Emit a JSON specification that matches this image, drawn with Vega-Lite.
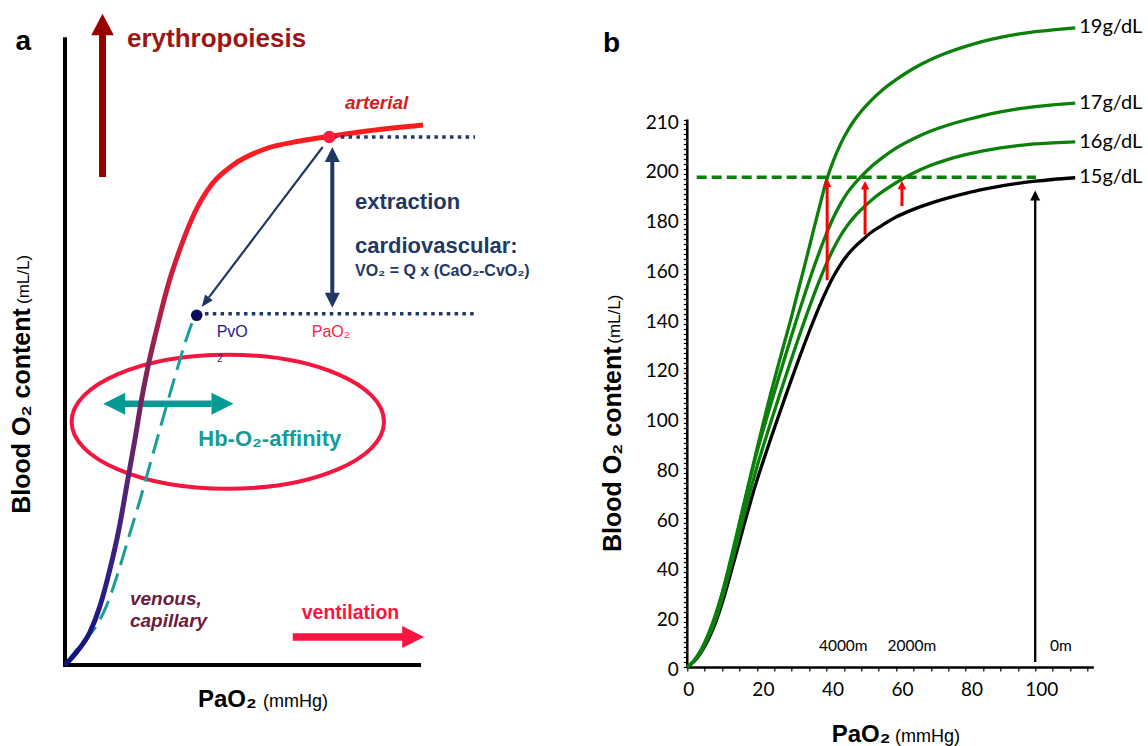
{
  "$schema": "https://vega.github.io/schema/vega-lite/v6.json",
  "padding": {"left": 10, "top": 13, "right": 0, "bottom": 0},
  "background": "white",
  "config": {"view": {"stroke": null}, "font": "Liberation Sans", "text": {"font": "Liberation Sans"}},
  "columns": 2,
  "spacing": 207.3,
  "bounds": "flush",
  "align": "each",
  "concat": [
    {
      "width": 415,
      "height": 652,
      "encoding": {
        "x": {"field": "x", "type": "quantitative", "scale": {"domain": [0, 100], "nice": false, "zero": false}, "axis": null},
        "y": {"field": "y", "type": "quantitative", "scale": {"domain": [0, 100], "nice": false, "zero": false}, "axis": null}
      },
      "layer": [
        {"data": {"values": [{"x": 39.23, "y": 37.62}]}, "mark": {"type": "point", "shape": "M-1,0A1,0.429,0,1,1,1,0A1,0.429,0,1,1,-1,0Z", "size": 97594, "filled": false, "stroke": "#f5163f", "strokeWidth": 4, "opacity": 1}},
        {"data": {"values": [{"x": 0, "y": 0, "x2": 0, "y2": 96.6}, {"x": -0.45, "y": 0.31, "x2": 85.8, "y2": 0.31}]}, "mark": {"type": "rule", "color": "#000000", "strokeWidth": 4}, "encoding": {"x2": {"field": "x2"}, "y2": {"field": "y2"}}},
        {"data": {"values": [{"x": 14.46, "x2": 35.35, "y": 40.38}]}, "mark": {"type": "rule", "color": "#079a95", "strokeWidth": 6.5}, "encoding": {"x2": {"field": "x2"}}},
        {"data": {"values": [{"x": 11.85, "y": 40.38}]}, "mark": {"type": "point", "shape": "M0,-1L1,1L-1,1Z", "size": 484, "angle": 270, "filled": true, "color": "#079a95", "opacity": 1}},
        {"data": {"values": [{"x": 37.95, "y": 40.38}]}, "mark": {"type": "point", "shape": "M0,-1L1,1L-1,1Z", "size": 484, "angle": 90, "filled": true, "color": "#079a95", "opacity": 1}},
        {"data": {"values": [
          {"x": 0, "y": 0.31}, {"x": 3.61, "y": 3.3}, {"x": 7.64, "y": 6.4}, {"x": 10.05, "y": 9.46}, {"x": 12.84, "y": 14.57}, {"x": 15.66, "y": 20.55}, {"x": 18.07, "y": 25.61}, {"x": 20.24, "y": 30.52}, {"x": 22.41, "y": 35.43}, {"x": 24.58, "y": 40.34}, {"x": 26.75, "y": 45.09}, {"x": 28.92, "y": 49.69}, {"x": 30.84, "y": 53.22}
        ]}, "mark": {"type": "line", "color": "#1a9e9a", "strokeWidth": 3, "strokeDash": [20, 9], "interpolate": "monotone"}},
        {"data": {"values": [
          {"x": 0, "y": 0.31}, {"x": 2.82, "y": 2.3}, {"x": 6.02, "y": 5.37}, {"x": 8.43, "y": 9.36}, {"x": 10.84, "y": 15.03}, {"x": 13.01, "y": 21.17}, {"x": 14.94, "y": 28.07}, {"x": 16.87, "y": 34.97}, {"x": 18.55, "y": 41.41}, {"x": 20.24, "y": 46.78}, {"x": 22.41, "y": 52.61}, {"x": 25.06, "y": 59.05}, {"x": 27.71, "y": 64.11}, {"x": 31.33, "y": 69.79}, {"x": 35.42, "y": 74.08}, {"x": 40.48, "y": 76.99}, {"x": 48.19, "y": 79.45}, {"x": 56.63, "y": 80.67}, {"x": 63.61, "y": 81.37}, {"x": 72.77, "y": 82.21}, {"x": 86.27, "y": 83.13}
        ]}, "mark": {"type": "line", "strokeWidth": 5, "interpolate": "monotone", "stroke": {"gradient": "linear", "x1": 0, "y1": 0, "x2": 0, "y2": 1, "stops": [
          {"offset": 0, "color": "#ff1c1c"}, {"offset": 0.15, "color": "#f51c2c"}, {"offset": 0.28, "color": "#c81e3c"}, {"offset": 0.48, "color": "#7a2458"}, {"offset": 0.65, "color": "#5a2474"}, {"offset": 0.86, "color": "#2a1e88"}, {"offset": 1, "color": "#101080"}
        ]}}},
        {"data": {"values": [{"x": 64.58, "x2": 98.8, "y": 81.29}, {"x": 33.73, "x2": 98.8, "y": 54.19}]}, "mark": {"type": "rule", "color": "#1f3864", "strokeWidth": 3.5, "strokeDash": [3.5, 4.3]}, "encoding": {"x2": {"field": "x2"}}},
        {"data": {"values": [{"x": 64.41, "y": 57.26, "y2": 77.45}]}, "mark": {"type": "rule", "color": "#1f3864", "strokeWidth": 4}, "encoding": {"y2": {"field": "y2"}}},
        {"data": {"values": [{"x": 64.41, "y": 78.6}]}, "mark": {"type": "point", "shape": "M0,-1L1,1L-1,1Z", "size": 225, "angle": 0, "filled": true, "color": "#1f3864", "opacity": 1}},
        {"data": {"values": [{"x": 64.41, "y": 56.24}]}, "mark": {"type": "point", "shape": "M0,-1L1,1L-1,1Z", "size": 225, "angle": 180, "filled": true, "color": "#1f3864", "opacity": 1}},
        {"data": {"values": [{"x": 62.09, "y": 79.75, "x2": 34.67, "y2": 56.69}]}, "mark": {"type": "rule", "color": "#1f3864", "strokeWidth": 2.2}, "encoding": {"x2": {"field": "x2"}, "y2": {"field": "y2"}}},
        {"data": {"values": [{"x": 33.81, "y": 55.95}]}, "mark": {"type": "point", "shape": "M0,-1L0.8,1L-0.8,1Z", "size": 144, "angle": 217, "filled": true, "color": "#1f3864", "opacity": 1}},
        {"data": {"values": [{"x": 31.73, "y": 53.94}]}, "mark": {"type": "point", "shape": "circle", "size": 133, "filled": true, "color": "#0d0d5e", "opacity": 1}},
        {"data": {"values": [{"x": 63.69, "y": 81.29}]}, "mark": {"type": "point", "shape": "circle", "size": 154, "filled": true, "color": "#ff1e3c", "opacity": 1}},
        {"data": {"values": [{"x": 9.04, "y": 75.15, "y2": 97.5}]}, "mark": {"type": "rule", "color": "#990000", "strokeWidth": 7}, "encoding": {"y2": {"field": "y2"}}},
        {"data": {"values": [{"x": 9.04, "y": 98.54}]}, "mark": {"type": "point", "shape": "M0,-0.956L1,0.956L-1,0.956Z", "size": 511, "filled": true, "color": "#990000", "opacity": 1}},
        {"data": {"values": [{"x": 54.87, "x2": 82.2, "y": 4.6}]}, "mark": {"type": "rule", "color": "#fa1540", "strokeWidth": 7.3}, "encoding": {"x2": {"field": "x2"}}},
        {"data": {"values": [{"x": 83.9, "y": 4.6}]}, "mark": {"type": "point", "shape": "M0,-1L1,1L-1,1Z", "size": 484, "angle": 90, "filled": true, "color": "#fa1540", "opacity": 1}},
        {"data": {"values": [{"x": -10.05, "y": 94.63, "t": "a"}]}, "mark": {"type": "text", "fontSize": 28, "fontWeight": "bold", "align": "center", "baseline": "alphabetic", "color": "#000000"}, "encoding": {"text": {"field": "t"}}},
        {"data": {"values": [{"x": 14.94, "y": 95.09, "t": "erythropoiesis"}]}, "mark": {"type": "text", "fontSize": 26, "fontWeight": "bold", "align": "left", "baseline": "alphabetic", "color": "#9c1616"}, "encoding": {"text": {"field": "t"}}},
        {"data": {"values": [{"x": 67.47, "y": 85.63, "t": "arterial"}]}, "mark": {"type": "text", "fontSize": 19, "fontWeight": "bold", "fontStyle": "italic", "align": "left", "baseline": "alphabetic", "color": "#d41f1f"}, "encoding": {"text": {"field": "t"}}},
        {"data": {"values": [{"x": 69.88, "y": 70.29, "t": "extraction"}, {"x": 69.88, "y": 63.54, "t": "cardiovascular:"}]}, "mark": {"type": "text", "fontSize": 22, "fontWeight": "bold", "align": "left", "baseline": "alphabetic", "color": "#1f3864"}, "encoding": {"text": {"field": "t"}}},
        {"data": {"values": [{"x": 69.88, "y": 60.0, "t": "VO₂ = Q x (CaO₂-CvO₂)"}]}, "mark": {"type": "text", "fontSize": 16, "fontWeight": "bold", "align": "left", "baseline": "alphabetic", "color": "#1f3864"}, "encoding": {"text": {"field": "t"}}},
        {"data": {"values": [{"x": 36.55, "y": 50.6, "t": "PvO"}]}, "mark": {"type": "text", "fontSize": 16, "align": "left", "baseline": "alphabetic", "color": "#1c1c86"}, "encoding": {"text": {"field": "t"}}},
        {"data": {"values": [{"x": 36.63, "y": 46.78, "t": "2"}]}, "mark": {"type": "text", "fontSize": 10, "align": "left", "baseline": "alphabetic", "color": "#1c1c86"}, "encoding": {"text": {"field": "t"}}},
        {"data": {"values": [{"x": 59.45, "y": 50.6, "t": "PaO₂"}]}, "mark": {"type": "text", "fontSize": 16, "align": "left", "baseline": "alphabetic", "color": "#ff1e4a"}, "encoding": {"text": {"field": "t"}}},
        {"data": {"values": [{"x": 32.12, "y": 33.9, "t": "Hb-O₂-affinity"}]}, "mark": {"type": "text", "fontSize": 22, "fontWeight": "bold", "align": "left", "baseline": "alphabetic", "color": "#139c98"}, "encoding": {"text": {"field": "t"}}},
        {"data": {"values": [{"x": 15.66, "y": 9.56, "t": "venous,"}, {"x": 15.66, "y": 6.13, "t": "capillary"}]}, "mark": {"type": "text", "fontSize": 19, "fontWeight": "bold", "fontStyle": "italic", "align": "left", "baseline": "alphabetic", "color": "#6d1a3e"}, "encoding": {"text": {"field": "t"}}},
        {"data": {"values": [{"x": 57.04, "y": 7.41, "t": "ventilation"}]}, "mark": {"type": "text", "fontSize": 19.5, "fontWeight": "bold", "align": "left", "baseline": "alphabetic", "color": "#fa1540"}, "encoding": {"text": {"field": "t"}}},
        {"data": {"values": [{"x": -8.43, "y": 23.5, "t": "Blood O₂ content"}]}, "mark": {"type": "text", "fontSize": 25, "fontWeight": "bold", "angle": 270, "align": "left", "baseline": "alphabetic", "color": "#000000"}, "encoding": {"text": {"field": "t"}}},
        {"data": {"values": [{"x": -8.6, "y": 55.67, "t": "(mL/L)"}]}, "mark": {"type": "text", "fontSize": 17, "angle": 270, "align": "left", "baseline": "alphabetic", "color": "#000000"}, "encoding": {"text": {"field": "t"}}},
        {"data": {"values": [{"x": 32.05, "y": -6.13, "t": "PaO₂"}]}, "mark": {"type": "text", "fontSize": 24, "fontWeight": "bold", "align": "left", "baseline": "alphabetic", "color": "#000000"}, "encoding": {"text": {"field": "t"}}},
        {"data": {"values": [{"x": 47.7, "y": -6.13, "t": "(mmHg)"}]}, "mark": {"type": "text", "fontSize": 18, "align": "left", "baseline": "alphabetic", "color": "#000000"}, "encoding": {"text": {"field": "t"}}}
      ]
    },
    {
      "width": 406,
      "height": 652,
      "encoding": {
        "x": {"field": "x", "type": "quantitative", "scale": {"domain": [0, 116.7], "nice": false, "zero": false},
          "axis": {"values": [0, 5, 10, 15, 20, 25, 30, 35, 40, 45, 50, 55, 60, 65, 70, 75, 80, 85, 90, 95, 100, 105, 110, 115],
            "labelExpr": "datum.value % 20 === 0 ? datum.label : ''", "title": null, "grid": false,
            "domainColor": "#000000", "domainWidth": 2.5, "tickColor": "#000000", "tickSize": 4, "tickWidth": 1.2,
            "labelFont": "Lato", "labelFontSize": 19, "labelColor": "#000000", "labelPadding": 9, "labelFlush": false, "labelOverlap": false, "labelBound": false,
            "labelOffset": {"condition": {"test": "datum.value === 0", "value": 1}, "value": 6}}},
        "y": {"field": "y", "type": "quantitative", "scale": {"domain": [0, 262], "nice": false, "zero": false},
          "axis": {"values": [0,2,4,6,8,10,12,14,16,18,20,22,24,26,28,30,32,34,36,38,40,42,44,46,48,50,52,54,56,58,60,62,64,66,68,70,72,74,76,78,80,82,84,86,88,90,92,94,96,98,100,102,104,106,108,110,112,114,116,118,120,122,124,126,128,130,132,134,136,138,140,142,144,146,148,150,152,154,156,158,160,162,164,166,168,170,172,174,176,178,180,182,184,186,188,190,192,194,196,198,200,202,204,206,208,210,212,214,216,218,220],
            "labelExpr": "datum.value === 220 ? '210' : (datum.value % 20 === 0 ? datum.label : '')", "title": null, "grid": false,
            "domain": false, "tickColor": "#000000", "tickSize": 4, "tickWidth": 1.2,
            "labelFont": "Lato", "labelFontSize": 19, "labelColor": "#000000", "labelPadding": 5, "labelFlush": false, "labelOverlap": false, "labelOffset": 2.5}}
      },
      "layer": [
        {"data": {"values": [{"x": 0, "y": 0, "y2": 220}]}, "mark": {"type": "rule", "color": "#000000", "strokeWidth": 2.5}, "encoding": {"y2": {"field": "y2"}}},
        {"data": {"values": [
          {"hb": "15g/dL", "x": 0, "y": 0}, {"hb": "15g/dL", "x": 2, "y": 2.3}, {"hb": "15g/dL", "x": 4, "y": 5.9}, {"hb": "15g/dL", "x": 6, "y": 10.9}, {"hb": "15g/dL", "x": 8, "y": 17.4}, {"hb": "15g/dL", "x": 10, "y": 25.6}, {"hb": "15g/dL", "x": 12, "y": 35.2}, {"hb": "15g/dL", "x": 14, "y": 45.3}, {"hb": "15g/dL", "x": 16, "y": 55.5}, {"hb": "15g/dL", "x": 18, "y": 65.5}, {"hb": "15g/dL", "x": 20, "y": 74.9}, {"hb": "15g/dL", "x": 22, "y": 83.5}, {"hb": "15g/dL", "x": 24, "y": 91.8}, {"hb": "15g/dL", "x": 26, "y": 99.9}, {"hb": "15g/dL", "x": 28, "y": 107.9}, {"hb": "15g/dL", "x": 30, "y": 115.8}, {"hb": "15g/dL", "x": 32, "y": 123.5}, {"hb": "15g/dL", "x": 34, "y": 131}, {"hb": "15g/dL", "x": 36, "y": 138.2}, {"hb": "15g/dL", "x": 38, "y": 145}, {"hb": "15g/dL", "x": 40, "y": 151.3}, {"hb": "15g/dL", "x": 42, "y": 156.9}, {"hb": "15g/dL", "x": 44, "y": 161.6}, {"hb": "15g/dL", "x": 46, "y": 165.5}, {"hb": "15g/dL", "x": 48, "y": 168.6}, {"hb": "15g/dL", "x": 50, "y": 171.2}, {"hb": "15g/dL", "x": 53, "y": 174.8}, {"hb": "15g/dL", "x": 56, "y": 177.5}, {"hb": "15g/dL", "x": 60, "y": 180.8}, {"hb": "15g/dL", "x": 65, "y": 183.9}, {"hb": "15g/dL", "x": 70, "y": 186.4}, {"hb": "15g/dL", "x": 75, "y": 188.5}, {"hb": "15g/dL", "x": 80, "y": 190.3}, {"hb": "15g/dL", "x": 85, "y": 191.9}, {"hb": "15g/dL", "x": 90, "y": 193.2}, {"hb": "15g/dL", "x": 95, "y": 194.3}, {"hb": "15g/dL", "x": 100, "y": 195.2}, {"hb": "15g/dL", "x": 105, "y": 195.9}, {"hb": "15g/dL", "x": 111.5, "y": 196.6},
          {"hb": "16g/dL", "x": 0, "y": 0}, {"hb": "16g/dL", "x": 2, "y": 2.5}, {"hb": "16g/dL", "x": 4, "y": 6.3}, {"hb": "16g/dL", "x": 6, "y": 11.7}, {"hb": "16g/dL", "x": 8, "y": 18.6}, {"hb": "16g/dL", "x": 10, "y": 27.4}, {"hb": "16g/dL", "x": 12, "y": 37.7}, {"hb": "16g/dL", "x": 14, "y": 48.5}, {"hb": "16g/dL", "x": 16, "y": 59.5}, {"hb": "16g/dL", "x": 18, "y": 70.2}, {"hb": "16g/dL", "x": 20, "y": 80.3}, {"hb": "16g/dL", "x": 22, "y": 89.5}, {"hb": "16g/dL", "x": 24, "y": 98.4}, {"hb": "16g/dL", "x": 26, "y": 107.1}, {"hb": "16g/dL", "x": 28, "y": 115.6}, {"hb": "16g/dL", "x": 30, "y": 124.1}, {"hb": "16g/dL", "x": 32, "y": 132.3}, {"hb": "16g/dL", "x": 34, "y": 140.4}, {"hb": "16g/dL", "x": 36, "y": 148.1}, {"hb": "16g/dL", "x": 38, "y": 155.4}, {"hb": "16g/dL", "x": 40, "y": 162.1}, {"hb": "16g/dL", "x": 42, "y": 168.1}, {"hb": "16g/dL", "x": 44, "y": 173.2}, {"hb": "16g/dL", "x": 46, "y": 177.4}, {"hb": "16g/dL", "x": 48, "y": 180.9}, {"hb": "16g/dL", "x": 50, "y": 183.8}, {"hb": "16g/dL", "x": 53, "y": 187.7}, {"hb": "16g/dL", "x": 56, "y": 190.9}, {"hb": "16g/dL", "x": 60, "y": 194.6}, {"hb": "16g/dL", "x": 65, "y": 198.5}, {"hb": "16g/dL", "x": 70, "y": 201.6}, {"hb": "16g/dL", "x": 75, "y": 204}, {"hb": "16g/dL", "x": 80, "y": 205.9}, {"hb": "16g/dL", "x": 85, "y": 207.4}, {"hb": "16g/dL", "x": 90, "y": 208.6}, {"hb": "16g/dL", "x": 95, "y": 209.5}, {"hb": "16g/dL", "x": 100, "y": 210.2}, {"hb": "16g/dL", "x": 105, "y": 210.6}, {"hb": "16g/dL", "x": 111.5, "y": 211},
          {"hb": "17g/dL", "x": 0, "y": 0}, {"hb": "17g/dL", "x": 2, "y": 2.6}, {"hb": "17g/dL", "x": 4, "y": 6.8}, {"hb": "17g/dL", "x": 6, "y": 12.5}, {"hb": "17g/dL", "x": 8, "y": 20}, {"hb": "17g/dL", "x": 10, "y": 29.5}, {"hb": "17g/dL", "x": 12, "y": 40.5}, {"hb": "17g/dL", "x": 14, "y": 52.1}, {"hb": "17g/dL", "x": 16, "y": 63.9}, {"hb": "17g/dL", "x": 18, "y": 75.4}, {"hb": "17g/dL", "x": 20, "y": 86.2}, {"hb": "17g/dL", "x": 22, "y": 96.1}, {"hb": "17g/dL", "x": 24, "y": 105.7}, {"hb": "17g/dL", "x": 26, "y": 115}, {"hb": "17g/dL", "x": 28, "y": 124.2}, {"hb": "17g/dL", "x": 30, "y": 133.3}, {"hb": "17g/dL", "x": 32, "y": 142.2}, {"hb": "17g/dL", "x": 34, "y": 150.8}, {"hb": "17g/dL", "x": 36, "y": 159.1}, {"hb": "17g/dL", "x": 38, "y": 166.9}, {"hb": "17g/dL", "x": 40, "y": 174.1}, {"hb": "17g/dL", "x": 42, "y": 180.6}, {"hb": "17g/dL", "x": 44, "y": 186}, {"hb": "17g/dL", "x": 46, "y": 190.5}, {"hb": "17g/dL", "x": 48, "y": 194.1}, {"hb": "17g/dL", "x": 50, "y": 197.1}, {"hb": "17g/dL", "x": 53, "y": 201.2}, {"hb": "17g/dL", "x": 56, "y": 204.6}, {"hb": "17g/dL", "x": 60, "y": 208.5}, {"hb": "17g/dL", "x": 65, "y": 212.3}, {"hb": "17g/dL", "x": 70, "y": 215.4}, {"hb": "17g/dL", "x": 75, "y": 217.8}, {"hb": "17g/dL", "x": 80, "y": 219.8}, {"hb": "17g/dL", "x": 85, "y": 221.6}, {"hb": "17g/dL", "x": 90, "y": 223.1}, {"hb": "17g/dL", "x": 95, "y": 224.3}, {"hb": "17g/dL", "x": 100, "y": 225.2}, {"hb": "17g/dL", "x": 105, "y": 225.9}, {"hb": "17g/dL", "x": 111.5, "y": 226.6},
          {"hb": "19g/dL", "x": 0, "y": 0}, {"hb": "19g/dL", "x": 2, "y": 2.7}, {"hb": "19g/dL", "x": 4, "y": 7}, {"hb": "19g/dL", "x": 6, "y": 13.1}, {"hb": "19g/dL", "x": 8, "y": 20.6}, {"hb": "19g/dL", "x": 10, "y": 29.6}, {"hb": "19g/dL", "x": 12, "y": 40}, {"hb": "19g/dL", "x": 14, "y": 51.5}, {"hb": "19g/dL", "x": 16, "y": 63.6}, {"hb": "19g/dL", "x": 18, "y": 75.7}, {"hb": "19g/dL", "x": 20, "y": 87.6}, {"hb": "19g/dL", "x": 22, "y": 99}, {"hb": "19g/dL", "x": 24, "y": 110}, {"hb": "19g/dL", "x": 26, "y": 120.5}, {"hb": "19g/dL", "x": 28, "y": 130.8}, {"hb": "19g/dL", "x": 30, "y": 141}, {"hb": "19g/dL", "x": 32, "y": 152}, {"hb": "19g/dL", "x": 34, "y": 162.8}, {"hb": "19g/dL", "x": 36, "y": 174}, {"hb": "19g/dL", "x": 38, "y": 185}, {"hb": "19g/dL", "x": 40, "y": 195.5}, {"hb": "19g/dL", "x": 42, "y": 203.5}, {"hb": "19g/dL", "x": 44, "y": 210}, {"hb": "19g/dL", "x": 46, "y": 215.3}, {"hb": "19g/dL", "x": 48, "y": 219.7}, {"hb": "19g/dL", "x": 50, "y": 223.3}, {"hb": "19g/dL", "x": 53, "y": 227.9}, {"hb": "19g/dL", "x": 56, "y": 231.8}, {"hb": "19g/dL", "x": 60, "y": 236}, {"hb": "19g/dL", "x": 65, "y": 240.5}, {"hb": "19g/dL", "x": 70, "y": 244.1}, {"hb": "19g/dL", "x": 75, "y": 247}, {"hb": "19g/dL", "x": 80, "y": 249.4}, {"hb": "19g/dL", "x": 85, "y": 251.4}, {"hb": "19g/dL", "x": 90, "y": 253}, {"hb": "19g/dL", "x": 95, "y": 254.3}, {"hb": "19g/dL", "x": 100, "y": 255.3}, {"hb": "19g/dL", "x": 105, "y": 256}, {"hb": "19g/dL", "x": 111.5, "y": 256.8}
        ]}, "mark": {"type": "line", "strokeWidth": 3.3, "interpolate": "monotone"},
          "encoding": {"color": {"field": "hb", "type": "nominal", "scale": {"domain": ["15g/dL", "16g/dL", "17g/dL", "19g/dL"], "range": ["#000000", "#0a800a", "#0a800a", "#0a800a"]}, "legend": null}}},
        {"data": {"values": [{"x": 2.7, "x2": 100.2, "y": 196.8}]}, "mark": {"type": "rule", "color": "#0a800a", "strokeWidth": 3.3, "strokeDash": [10, 5]}, "encoding": {"x2": {"field": "x2"}}},
        {"data": {"values": [{"x": 40.2, "y": 155.4, "y2": 193}, {"x": 51.1, "y": 173.7, "y2": 192.3}, {"x": 61.7, "y": 185.2, "y2": 192.3}]}, "mark": {"type": "rule", "color": "#ff0000", "strokeWidth": 3}, "encoding": {"y2": {"field": "y2"}}},
        {"data": {"values": [{"x": 40.2, "y": 194.6}, {"x": 51.1, "y": 193.6}, {"x": 61.7, "y": 193.7}]}, "mark": {"type": "point", "shape": "M0,-1L1,1L-1,1Z", "size": 72, "filled": true, "color": "#ff0000", "opacity": 1}},
        {"data": {"values": [{"x": 100, "y": 2, "y2": 188}]}, "mark": {"type": "rule", "color": "#000000", "strokeWidth": 2.3}, "encoding": {"y2": {"field": "y2"}}},
        {"data": {"values": [{"x": 100, "y": 189.5}]}, "mark": {"type": "point", "shape": "M0,-1L1,1L-1,1Z", "size": 100, "filled": true, "color": "#000000", "opacity": 1}},
        {"data": {"values": [{"x": 44.83, "y": 6.3, "t": "4000m"}, {"x": 64.57, "y": 6.3, "t": "2000m"}, {"x": 107.36, "y": 6.3, "t": "0m"}]}, "mark": {"type": "text", "font": "Lato", "fontSize": 15.5, "align": "center", "baseline": "alphabetic", "color": "#000000"}, "encoding": {"text": {"field": "t"}}},
        {"data": {"values": [{"x": 112.64, "y": 257.2, "t": "19g/dL"}, {"x": 112.64, "y": 226.8, "t": "17g/dL"}, {"x": 112.64, "y": 211, "t": "16g/dL"}, {"x": 112.64, "y": 196.9, "t": "15g/dL"}]}, "mark": {"type": "text", "font": "Lato", "fontSize": 20, "align": "left", "baseline": "middle", "color": "#000000"}, "encoding": {"text": {"field": "t"}}},
        {"data": {"values": [{"x": -21.8, "y": 247.1, "t": "b"}]}, "mark": {"type": "text", "fontSize": 28, "fontWeight": "bold", "align": "center", "baseline": "alphabetic", "color": "#000000"}, "encoding": {"text": {"field": "t"}}},
        {"data": {"values": [{"x": -19.14, "y": 46.21, "t": "Blood O₂ content"}]}, "mark": {"type": "text", "fontSize": 25, "fontWeight": "bold", "angle": 270, "align": "left", "baseline": "alphabetic", "color": "#000000"}, "encoding": {"text": {"field": "t"}}},
        {"data": {"values": [{"x": -19.3, "y": 129.9, "t": "(mL/L)"}]}, "mark": {"type": "text", "fontSize": 17, "angle": 270, "align": "left", "baseline": "alphabetic", "color": "#000000"}, "encoding": {"text": {"field": "t"}}},
        {"data": {"values": [{"x": 41.49, "y": -30.14, "t": "PaO₂"}]}, "mark": {"type": "text", "fontSize": 24, "fontWeight": "bold", "align": "left", "baseline": "alphabetic", "color": "#000000"}, "encoding": {"text": {"field": "t"}}},
        {"data": {"values": [{"x": 59.68, "y": -30.14, "t": "(mmHg)"}]}, "mark": {"type": "text", "fontSize": 18, "align": "left", "baseline": "alphabetic", "color": "#000000"}, "encoding": {"text": {"field": "t"}}}
      ]
    }
  ]
}
